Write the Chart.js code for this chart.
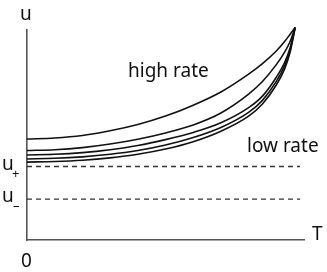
<!DOCTYPE html>
<html><head><meta charset="utf-8">
<script src="https://cdn.jsdelivr.net/npm/chart.js@4"></script>
<style>html,body{margin:0;padding:0;background:#fff}#wrap{width:327px;height:272px;position:relative}</style>
</head><body><div id="wrap"><canvas id="c" width="327" height="272"></canvas></div>
<script>
const tValues = [0, 1, 2, 3, 4, 5, 6, 7, 8, 8.5, 9, 9.3, 9.5, 9.68];
const curve1 = [4.81, 4.86, 4.98, 5.2, 5.5, 5.9, 6.42, 7.05, 7.9, 8.4, 9.0, 9.45, 9.8, 10.12];
const curve2 = [4.26, 4.3, 4.4, 4.57, 4.8, 5.1, 5.48, 6.05, 6.95, 7.55, 8.35, 8.95, 9.45, 10.12];
const curve3 = [4.05, 4.08, 4.16, 4.3, 4.5, 4.78, 5.12, 5.58, 6.3, 6.85, 7.75, 8.45, 9.15, 10.12];
const curve4 = [3.86, 3.89, 3.96, 4.08, 4.26, 4.52, 4.88, 5.36, 6.08, 6.65, 7.55, 8.3, 9.05, 10.12];
const curve5 = [3.71, 3.74, 3.8, 3.91, 4.08, 4.33, 4.68, 5.18, 5.9, 6.48, 7.38, 8.15, 8.95, 10.12];
const uPlus = 3.5;
const uMinus = 1.95;
const dashEndT = 9.86;

const curves = [curve1, curve2, curve3, curve4, curve5];
const datasets = curves.map(c => ({
  data: tValues.map((t, i) => ({x: t, y: c[i]})),
  borderColor: '#111', borderWidth: 1.6, pointRadius: 0, tension: 0.4, cubicInterpolationMode: 'monotone', fill: false, clip: false
}));
[uPlus, uMinus].forEach(v => datasets.push({
  data: [{x: 0, y: v}, {x: dashEndT, y: v}],
  borderColor: '#333', borderWidth: 1.3, borderDash: [5, 4], pointRadius: 0, fill: false
}));

const labels = {
  id: 'labels',
  afterDraw(chart) {
    const ctx = chart.ctx;
    ctx.save();
    ctx.fillStyle = '#111';
    ctx.textBaseline = 'alphabetic';
    ctx.font = '19px "Noto Sans", sans-serif';
    ctx.textAlign = 'left';
    ctx.fillText('u', 20, 20);
    ctx.fillText('high rate', 128, 77);
    ctx.fillText('low rate', 247, 152);
    ctx.fillText('u', 2, 170);
    ctx.fillText('u', 2, 202);
    ctx.fillText('T', 312, 240);
    ctx.fillText('0', 21, 267);
    ctx.font = '13px "Noto Sans", sans-serif';
    ctx.fillText('+', 12, 178);
    ctx.fillText('\u2013', 13, 210);
    ctx.restore();
  }
};

new Chart(document.getElementById('c'), {
  type: 'line',
  data: { datasets },
  options: {
    responsive: false, animation: false,
    layout: { padding: { left: 27, right: 23, top: 30, bottom: 32 } },
    plugins: { legend: { display: false }, tooltip: { enabled: false } },
    scales: {
      x: { type: 'linear', min: 0, max: 10, grid: { display: false }, ticks: { display: false },
           border: { display: true, color: '#555', width: 1.6 }, afterFit(s) { s.height = 0; } },
      y: { type: 'linear', min: 0, max: 10, grid: { display: false }, ticks: { display: false },
           border: { display: true, color: '#555', width: 1.6 }, afterFit(s) { s.width = 0; } }
    }
  },
  plugins: [labels]
});
</script></body></html>
